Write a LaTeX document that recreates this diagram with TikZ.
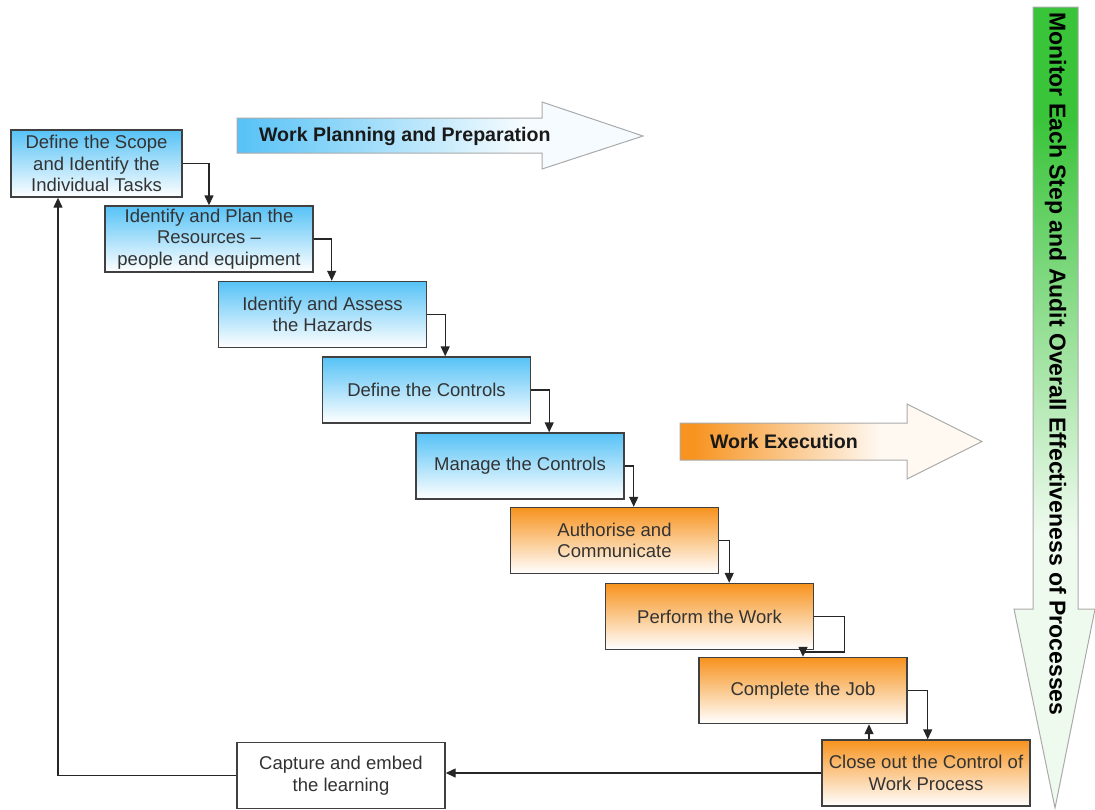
\documentclass[tikz,border=0pt]{standalone}
\usepackage{fontspec}
\setmainfont{Liberation Sans}
\usepackage{xcolor}
\usetikzlibrary{arrows.meta,positioning,calc}

\definecolor{planblue}{RGB}{86,194,246}
\definecolor{execorange}{RGB}{247,147,30}
\definecolor{auditgreen}{RGB}{58,196,58}
\definecolor{boxline}{RGB}{64,64,64}
\definecolor{arrowline}{RGB}{170,170,170}
\colorlet{planpale}{planblue!6}
\colorlet{execpale}{execorange!6}
\colorlet{auditpale}{auditgreen!8}

\pgfdeclarehorizontalshading{planshade}{100bp}{color(0bp)=(planblue); color(25bp)=(planblue); color(60bp)=(planpale); color(100bp)=(planpale)}
\pgfdeclarehorizontalshading{execshade}{100bp}{color(0bp)=(execorange); color(27bp)=(execorange); color(58bp)=(execpale); color(100bp)=(execpale)}
\pgfdeclareverticalshading{auditshade}{100bp}{color(0bp)=(auditpale); color(42bp)=(auditpale); color(68bp)=(auditgreen); color(100bp)=(auditgreen)}

\begin{document}
\begin{tikzpicture}[x=0.5pt,y=-0.5pt,
        >={Triangle[length=5pt,width=4.5pt]},
        every node/.style={font=\fontsize{9.25}{10.8}\selectfont,text=black!80},
        task/.style={draw=boxline,line width=0.7pt,minimum width=104pt,minimum height=33pt,align=center,inner sep=1pt},
        plantask/.style={task,top color=planblue,bottom color=white},
        exectask/.style={task,top color=execorange,bottom color=white},
        flow/.style={->,line width=0.7pt,draw=black!85},
        phase/.style={draw=arrowline,line width=0.5pt},
        phaselabel/.style={font=\fontsize{9.8}{12}\selectfont\bfseries,text=black!90}
        ]
        \useasboundingbox (0,0) rectangle (1095,809);

        %Phase arrows
        \shadedraw[phase,shading=planshade] (237,118) -- (542,118) -- (542,102) -- (643,136) -- (542,169) -- (542,153) -- (237,153) -- cycle;
        \node[phaselabel,anchor=west] (planlabel) at (252,136) {Work Planning and Preparation};
        \shadedraw[phase,shading=execshade] (680,423) -- (907,423) -- (907,404) -- (982,441.5) -- (907,479) -- (907,460) -- (680,460) -- cycle;
        \node[phaselabel,anchor=west] (execlabel) at (703,441.5) {Work Execution};

        %Monitor arrow
        \shadedraw[phase,shading=auditshade] (1033,7) -- (1078,7) -- (1078,609) -- (1095,609) -- (1055,808) -- (1014,609) -- (1033,609) -- cycle;
        \node[font=\fontsize{11.5}{13}\selectfont\bfseries,text=black,rotate=-90] (monitor) at (1055.5,364) {Monitor Each Step and Audit Overall Effectiveness of Processes};

        %Tasks
        \node[plantask,minimum width=85.5pt,minimum height=33.5pt] (scope) at (96.5,163.5) {Define the Scope\\and Identify the\\Individual Tasks};
        \node[plantask] (resources) at (209,239) {Identify and Plan the\\Resources –\\people and equipment};
        \node[plantask] (hazards) at (322.5,314.5) {Identify and Assess\\the Hazards};
        \node[plantask] (define) at (426.5,390) {Define the Controls};
        \node[plantask] (manage) at (520,466) {Manage the Controls};
        \node[exectask] (authorise) at (614.5,540.5) {Authorise and\\Communicate};
        \node[exectask] (perform) at (709.5,616.5) {Perform the Work};
        \node[exectask] (complete) at (803,690.5) {Complete the Job};
        \node[exectask] (closeout) at (926,773) {Close out the Control of\\Work Process};
        \node[task,fill=white] (capture) at (341,775.5) {Capture and embed\\the learning};

        %Flow
        \draw[flow] (scope.east) -| (resources.north);
        \draw[flow] (resources.east) -| ([xshift=9pt]resources.east |- hazards.north);
        \draw[flow] (hazards.east) -| ([xshift=9pt]hazards.east |- define.north);
        \draw[flow] (define.east) -| ([xshift=9pt]define.east |- manage.north);
        \draw[flow] (manage.east) -| ([xshift=4.5pt]manage.east |- authorise.north);
        \draw[flow] (authorise.east) -| ([xshift=5pt]authorise.east |- perform.north);
        \draw[flow] (perform.east) -- ++(15pt,0) |- ([yshift=2.5pt]complete.north) -- (complete.north);
        \draw[flow] (complete.east) -| ([xshift=10pt]complete.east |- closeout.north);
        \draw[flow] ([xshift=-28.5pt]closeout.north) -- ([xshift=-28.5pt]closeout.north |- complete.south);
        \draw[flow] (closeout.west) -- (closeout.west -| capture.east);
        \draw[flow] (capture.west) -| ([xshift=-19.25pt]scope.south);

\end{tikzpicture}
\end{document}
